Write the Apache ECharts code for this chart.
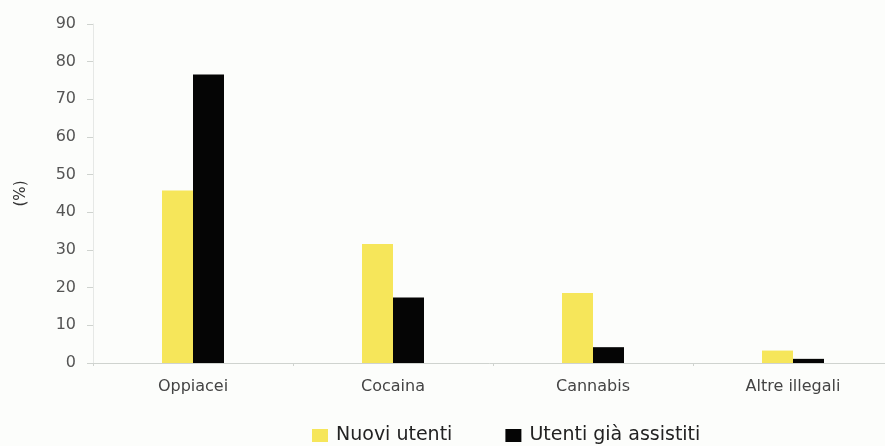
<!DOCTYPE html>
<html>
<head>
<meta charset="utf-8">
<script src="https://cdn.jsdelivr.net/npm/echarts@6/dist/echarts.min.js"></script>
<style>
  html, body { margin: 0; padding: 0; background: #fcfdfb; }
  #chart { width: 885px; height: 446px; }
</style>
</head>
<body>
<div id="chart"></div>
<script>
// Tipo di sostanza primaria (%)
const categories = ['Oppiacei', 'Cocaina', 'Cannabis', 'Altre illegali'];
const nuoviUtenti = [45.8, 31.6, 18.6, 3.3];
const utentiGiaAssistiti = [76.6, 17.4, 4.2, 1.1];
const seriesNames = ['Nuovi utenti', 'Utenti già assistiti'];
const yTicks = { min: 0, max: 90, interval: 10 };

const chart = echarts.init(document.getElementById('chart'), null, { renderer: 'canvas' });
const font = 'DejaVu Sans, Verdana, sans-serif';

chart.setOption({
  backgroundColor: '#fcfdfb',
  animation: false,
  grid: {
    left: 93, width: 800, top: 24, bottom: 83,
    containLabel: false,
    outerBoundsMode: 'none'
  },
  legend: {
    top: 421,
    left: 307,
    itemWidth: 16,
    itemHeight: 13,
    itemGap: 53,
    icon: 'rect',
    textStyle: { fontFamily: font, fontSize: 19, color: '#222', padding: [0, 0, 0, 3] },
    data: seriesNames
  },
  xAxis: {
    type: 'category',
    data: categories,
    axisLine: { lineStyle: { color: '#cfd3cf', width: 1 } },
    axisTick: { show: true, length: 3, lineStyle: { color: '#cfd3cf' } },
    axisLabel: { fontFamily: font, fontSize: 16, color: '#444', margin: 16 }
  },
  yAxis: {
    type: 'value',
    min: yTicks.min,
    max: yTicks.max,
    interval: yTicks.interval,
    name: '(%)',
    nameLocation: 'middle',
    nameGap: 64,
    nameRotate: 90,
    nameTextStyle: { fontFamily: font, fontSize: 15, color: '#333' },
    axisLine: { show: true, lineStyle: { color: '#e6e8e6', width: 1 } },
    axisTick: { show: true, length: 6, lineStyle: { color: '#cfd3cf' } },
    axisLabel: { fontFamily: font, fontSize: 16, color: '#555', margin: 17 },
    splitLine: { show: false }
  },
  series: [
    {
      name: seriesNames[0],
      type: 'bar',
      data: nuoviUtenti,
      barGap: '0%',
      barCategoryGap: '69%',
      itemStyle: { color: '#f6e65a' }
    },
    {
      name: seriesNames[1],
      type: 'bar',
      data: utentiGiaAssistiti,
      itemStyle: { color: '#050505' }
    }
  ]
});
</script>
</body>
</html>
